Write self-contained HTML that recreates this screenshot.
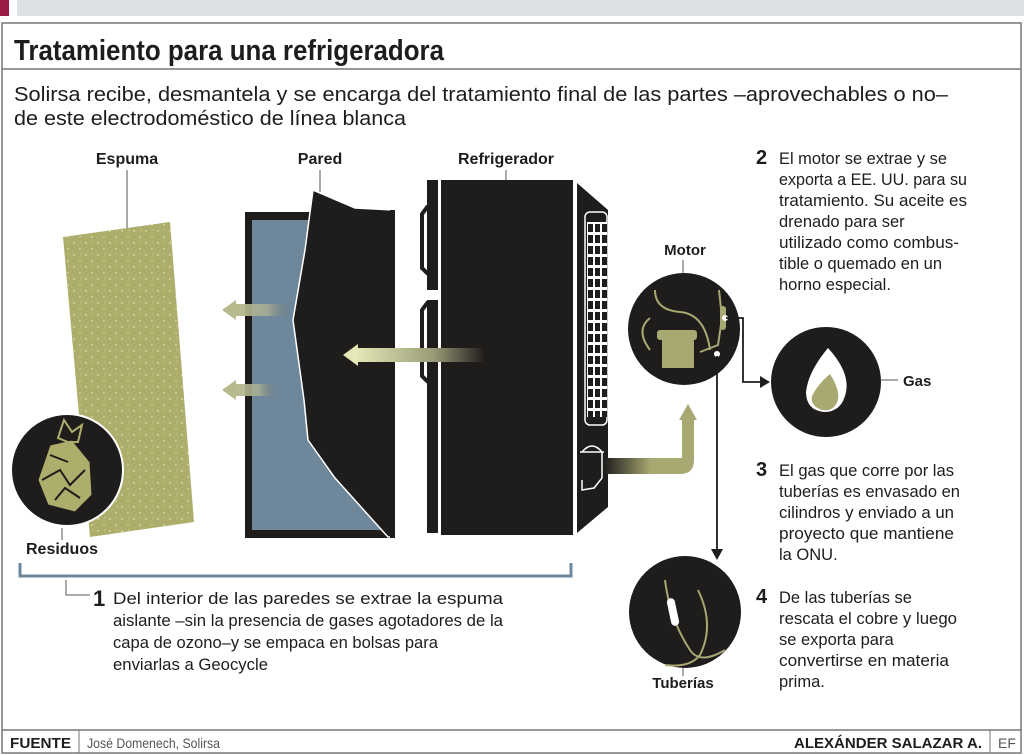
<!DOCTYPE html>
<html><head><meta charset="utf-8"><style>
html,body{margin:0;padding:0;background:#fff;}
svg{display:block;}
.c{font-family:"Liberation Sans Narrow","Liberation Sans",sans-serif;}
.s{font-family:"Liberation Sans",sans-serif;}
</style></head><body>
<svg width="1024" height="755" viewBox="0 0 1024 755" xmlns="http://www.w3.org/2000/svg">
<defs>
<linearGradient id="gl" x1="0" x2="1" y1="0" y2="0"><stop offset="0" stop-color="#b7b98a"/><stop offset="0.6" stop-color="#aeb294" stop-opacity="0.8"/><stop offset="1" stop-color="#6f7a6a" stop-opacity="0"/></linearGradient>
<linearGradient id="gb" x1="0" x2="1" y1="0" y2="0"><stop offset="0" stop-color="#e6e8b8"/><stop offset="0.6" stop-color="#9a9c78"/><stop offset="1" stop-color="#1f1c1c"/></linearGradient>
<linearGradient id="gp" x1="0" x2="1" y1="0" y2="0"><stop offset="0" stop-color="#1f1c1c"/><stop offset="0.6" stop-color="#a8a872"/><stop offset="1" stop-color="#a8a872"/></linearGradient>
<pattern id="dots" width="12" height="12" patternUnits="userSpaceOnUse"><circle cx="2" cy="3" r="1" fill="#d6d69c"/><circle cx="8" cy="9" r="0.9" fill="#d6d69c"/><circle cx="9" cy="2" r="0.6" fill="#d6d69c"/></pattern>
<pattern id="grill" x="588" y="224" width="7" height="11" patternUnits="userSpaceOnUse"><rect x="0" y="0" width="5" height="8" fill="#1f1c1c"/></pattern>
</defs>
<rect x="0" y="0" width="1024" height="16" fill="#dde0e5"/>
<rect x="0" y="0" width="9" height="16" fill="#9b1c44"/>
<rect x="9" y="0" width="8" height="16" fill="#fff"/>
<rect x="2" y="23" width="1019" height="730" fill="none" stroke="#777" stroke-width="1.5"/>
<line x1="2" y1="69" x2="1021" y2="69" stroke="#777" stroke-width="1.5"/>
<text x="14" y="60" class="c" font-size="29" font-weight="bold" fill="#1f1c1c" textLength="430" lengthAdjust="spacingAndGlyphs">Tratamiento para una refrigeradora</text>
<text x="14" y="101" class="c" font-size="20" fill="#1f1c1c" textLength="934" lengthAdjust="spacingAndGlyphs">Solirsa recibe, desmantela y se encarga del tratamiento final de las partes –aprovechables o no–</text>
<text x="14" y="125" class="c" font-size="20" fill="#1f1c1c" textLength="392" lengthAdjust="spacingAndGlyphs">de este electrodoméstico de línea blanca</text>

<text x="127" y="164" class="c" font-size="16" font-weight="bold" text-anchor="middle" fill="#1f1c1c">Espuma</text>
<line x1="127" y1="170" x2="127" y2="230" stroke="#555"/>
<text x="320" y="164" class="c" font-size="16" font-weight="bold" text-anchor="middle" fill="#1f1c1c">Pared</text>
<line x1="320" y1="170" x2="320" y2="192" stroke="#555"/>
<text x="506" y="164" class="c" font-size="16" font-weight="bold" text-anchor="middle" fill="#1f1c1c">Refrigerador</text>
<line x1="506" y1="170" x2="506" y2="181" stroke="#555"/>

<polygon points="63,237 170,222 194,522 90,537" fill="#aeae6c"/>
<polygon points="63,237 170,222 194,522 90,537" fill="url(#dots)"/>

<circle cx="67" cy="470" r="56" fill="#1f1c1c" stroke="#fff" stroke-width="2"/>
<polygon points="50,445 72,440 90,462 92,495 75,512 48,505 38,480" fill="#aeae6c" stroke="#1f1c1c" stroke-width="1"/>
<path d="M42,480 L60,470 L70,485 L85,470 M55,500 L65,488 L80,498 M50,455 L68,462" stroke="#1f1c1c" stroke-width="2" fill="none"/>
<polygon points="58,438 64,420 72,432 82,425 78,442 68,442" fill="none" stroke="#aeae6c" stroke-width="2"/>
<text x="62" y="554" class="c" font-size="16" font-weight="bold" text-anchor="middle" fill="#1f1c1c">Residuos</text>
<line x1="62" y1="528" x2="62" y2="540" stroke="#555"/>

<rect x="245" y="212" width="150" height="326" fill="#1f1c1c"/>
<rect x="252" y="220" width="140" height="310" fill="#6f879b"/>
<polygon points="313,190 355,208 393,210 393,537 388,537 335,478 308,440 304,400 293,320 305,250" fill="#1f1c1c" stroke="#fff" stroke-width="1.5"/>
<rect x="390" y="210" width="5" height="328" fill="#1f1c1c"/>

<rect x="234" y="304" width="56" height="12" fill="url(#gl)"/>
<polygon points="222,310 236,300 236,320" fill="#b7b98a"/>
<rect x="234" y="384" width="42" height="12" fill="url(#gl)"/>
<polygon points="222,390 236,380 236,400" fill="#b7b98a"/>

<rect x="427" y="180" width="11" height="110" fill="#1f1c1c"/>
<rect x="427" y="300" width="11" height="233" fill="#1f1c1c"/>
<path d="M428,206 L422,214 L422,268 L428,274" stroke="#1f1c1c" stroke-width="4" fill="none"/>
<path d="M428,302 L422,310 L422,376 L428,382" stroke="#1f1c1c" stroke-width="4" fill="none"/>
<rect x="441" y="180" width="132" height="355" fill="#1f1c1c"/>
<polygon points="577,183 608,210 608,507 577,533" fill="#1f1c1c"/>
<rect x="585" y="212" width="22" height="213" rx="5" fill="#1f1c1c" stroke="#fff" stroke-width="1.5"/>
<rect x="587" y="222" width="20" height="195" fill="#fff"/>
<rect x="587" y="222" width="20" height="195" fill="url(#grill)"/>
<rect x="355" y="348" width="130" height="14" fill="url(#gb)"/>
<polygon points="343,355 358,344 358,366" fill="#e6e8b8"/>
<path d="M582,452 Q592,440 602,452 L602,478 L594,488 L582,490 L582,480 M580,452 L604,452" stroke="#fff" stroke-width="1.5" fill="none"/>
<rect x="604" y="458" width="78" height="16" fill="url(#gp)"/>
<path d="M680,474 Q694,474 694,460 L694,420 L682,420 L682,458 L680,458 Z" fill="#a8a872"/>
<polygon points="679,420 688,404 697,420" fill="#a8a872"/>

<path d="M20,563 L20,576 L571,576 L571,563" stroke="#6f879b" stroke-width="3" fill="none"/>
<path d="M66,580 L66,595 L90,595" stroke="#555" fill="none"/>
<text x="93" y="606" class="c" font-size="22" font-weight="bold" fill="#1f1c1c">1</text>
<g class="c" font-size="17" fill="#1f1c1c">
<text x="113" y="604" textLength="390" lengthAdjust="spacingAndGlyphs">Del interior de las paredes se extrae la espuma</text>
<text x="113" y="626" textLength="390" lengthAdjust="spacingAndGlyphs">aislante –sin la presencia de gases agotadores de la</text>
<text x="113" y="648" textLength="325" lengthAdjust="spacingAndGlyphs">capa de ozono–y se empaca en bolsas para</text>
<text x="113" y="670" textLength="155" lengthAdjust="spacingAndGlyphs">enviarlas a Geocycle</text>
</g>

<text x="685" y="255" class="s" font-size="15" font-weight="bold" text-anchor="middle" fill="#1f1c1c">Motor</text>
<line x1="683" y1="260" x2="683" y2="273" stroke="#555"/>
<circle cx="684" cy="329" r="56" fill="#1f1c1c"/>
<path d="M655,290 Q655,310 680,312 Q705,314 710,350" stroke="#a8a872" stroke-width="2" fill="none"/>
<path d="M650,350 Q635,330 650,318" stroke="#a8a872" stroke-width="2" fill="none"/>
<rect x="657" y="330" width="40" height="10" rx="3" fill="#a8a872"/>
<rect x="662" y="340" width="32" height="28" fill="#a8a872"/>
<path d="M719,290 L722,318 L718,345 L700,352" stroke="#a8a872" stroke-width="2" fill="none"/>
<rect x="720" y="306" width="6" height="24" rx="3" fill="#a8a872"/>
<circle cx="725" cy="318" r="3" fill="#fff"/>
<circle cx="717" cy="354" r="3" fill="#fff"/>
<path d="M726,318 L743,318 L743,382 L762,382" stroke="#1f1c1c" stroke-width="1.8" fill="none"/>
<polygon points="770,382 760,376 760,388" fill="#1f1c1c"/>
<line x1="717" y1="356" x2="717" y2="550" stroke="#1f1c1c" stroke-width="1.8"/>
<polygon points="717,560 711,549 723,549" fill="#1f1c1c"/>

<circle cx="826" cy="382" r="55" fill="#1f1c1c"/>
<path d="M828,348 Q850,372 846,392 Q842,412 824,412 Q806,410 806,392 Q808,372 828,348 Z" fill="#fff"/>
<path d="M830,374 Q840,390 838,400 Q834,412 822,410 Q810,406 812,396 Q818,384 830,374 Z" fill="#a8a872"/>
<line x1="881" y1="380" x2="898" y2="380" stroke="#555"/>
<text x="903" y="386" class="s" font-size="15" font-weight="bold" fill="#1f1c1c">Gas</text>

<circle cx="685" cy="612" r="56" fill="#1f1c1c"/>
<path d="M665,580 Q670,620 690,650 Q700,665 725,650" stroke="#a8a872" stroke-width="2" fill="none"/>
<path d="M698,590 Q715,625 700,655 Q690,668 665,665" stroke="#a8a872" stroke-width="2" fill="none"/>
<rect x="669" y="598" width="8" height="28" rx="4" fill="#fff" transform="rotate(-12 673 612)"/>
<line x1="683" y1="668" x2="683" y2="676" stroke="#555"/>
<text x="683" y="688" class="s" font-size="15" font-weight="bold" text-anchor="middle" fill="#1f1c1c">Tuberías</text>

<g class="s" font-size="16.5" fill="#1f1c1c">
<text x="756" y="164" font-size="20" font-weight="bold">2</text>
<text x="779" y="164" textLength="168" lengthAdjust="spacingAndGlyphs">El motor se extrae y se</text>
<text x="779" y="185" textLength="188" lengthAdjust="spacingAndGlyphs">exporta a EE. UU. para su</text>
<text x="779" y="206" textLength="188" lengthAdjust="spacingAndGlyphs">tratamiento. Su aceite es</text>
<text x="779" y="227">drenado para ser</text>
<text x="779" y="248" textLength="180" lengthAdjust="spacingAndGlyphs">utilizado como combus-</text>
<text x="779" y="269" textLength="163" lengthAdjust="spacingAndGlyphs">tible o quemado en un</text>
<text x="779" y="290">horno especial.</text>
<text x="756" y="476" font-size="20" font-weight="bold">3</text>
<text x="779" y="476" textLength="175" lengthAdjust="spacingAndGlyphs">El gas que corre por las</text>
<text x="779" y="497" textLength="181" lengthAdjust="spacingAndGlyphs">tuberías es envasado en</text>
<text x="779" y="518" textLength="175" lengthAdjust="spacingAndGlyphs">cilindros y enviado a un</text>
<text x="779" y="539" textLength="175" lengthAdjust="spacingAndGlyphs">proyecto que mantiene</text>
<text x="779" y="560">la ONU.</text>
<text x="756" y="603" font-size="20" font-weight="bold">4</text>
<text x="779" y="603">De las tuberías se</text>
<text x="779" y="624" textLength="178" lengthAdjust="spacingAndGlyphs">rescata el cobre y luego</text>
<text x="779" y="645">se exporta para</text>
<text x="779" y="666" textLength="170" lengthAdjust="spacingAndGlyphs">convertirse en materia</text>
<text x="779" y="687">prima.</text>
</g>

<line x1="2" y1="730" x2="1021" y2="730" stroke="#777" stroke-width="1.5"/>
<line x1="79" y1="730" x2="79" y2="753" stroke="#777"/>
<line x1="990" y1="730" x2="990" y2="753" stroke="#777"/>
<text x="10" y="748" class="c" font-size="15" font-weight="bold" fill="#1f1c1c" textLength="61" lengthAdjust="spacingAndGlyphs">FUENTE</text>
<text x="87" y="748" class="c" font-size="14" fill="#555" textLength="133" lengthAdjust="spacingAndGlyphs">José Domenech, Solirsa</text>
<text x="794" y="748" class="c" font-size="15" font-weight="bold" fill="#1f1c1c" textLength="188" lengthAdjust="spacingAndGlyphs">ALEXÁNDER SALAZAR A.</text>
<text x="998" y="748" class="c" font-size="14" fill="#555">EF</text>
</svg>
</body></html>
